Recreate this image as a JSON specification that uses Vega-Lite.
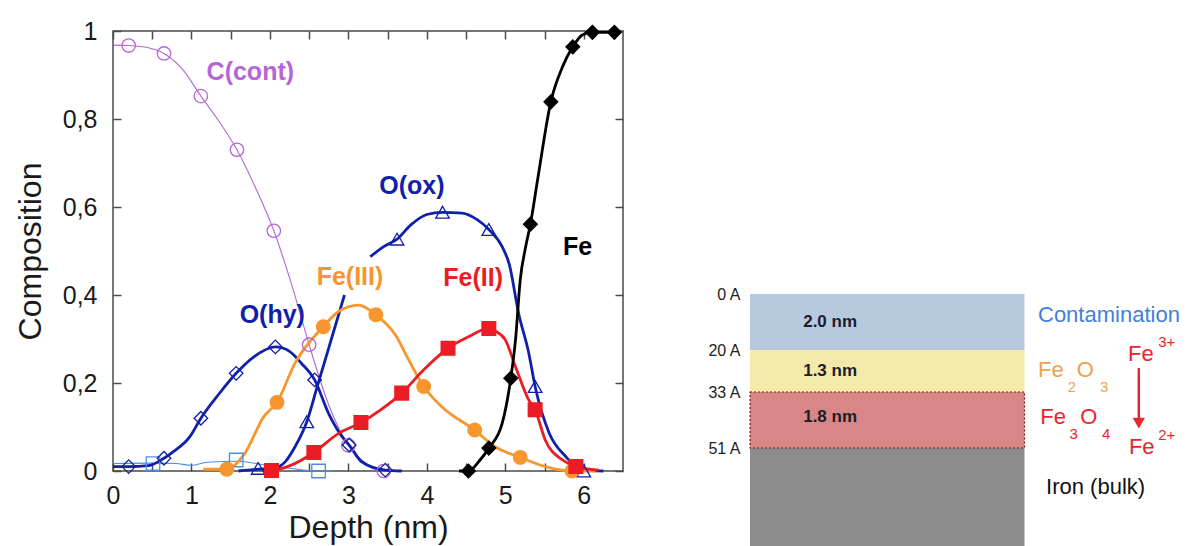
{
  "$schema": "https://vega.github.io/schema/vega-lite/v6.json",
  "background": "white",
  "padding": {"left": 13, "top": 18, "right": 0, "bottom": 0},
  "bounds": "flush",
  "spacing": 127,
  "resolve": {"scale": {"color": "independent", "fill": "independent", "stroke": "independent", "shape": "independent", "size": "independent"}},
  "config": {"view": {"stroke": null}, "font": "Liberation Sans"},
  "datasets": {
    "curves": [
      {"s": "C(cont)", "part": "a", "x": 0, "y": 0.968}, {"s": "C(cont)", "part": "a", "x": 0.2, "y": 0.967}, {"s": "C(cont)", "part": "a", "x": 0.45, "y": 0.962}, {"s": "C(cont)", "part": "a", "x": 0.65, "y": 0.949}, {"s": "C(cont)", "part": "a", "x": 0.9, "y": 0.91}, {"s": "C(cont)", "part": "a", "x": 1.12, "y": 0.852}, {"s": "C(cont)", "part": "a", "x": 1.35, "y": 0.795}, {"s": "C(cont)", "part": "a", "x": 1.58, "y": 0.73}, {"s": "C(cont)", "part": "a", "x": 1.8, "y": 0.65}, {"s": "C(cont)", "part": "a", "x": 2.05, "y": 0.546}, {"s": "C(cont)", "part": "a", "x": 2.3, "y": 0.41}, {"s": "C(cont)", "part": "a", "x": 2.5, "y": 0.287}, {"s": "C(cont)", "part": "a", "x": 2.75, "y": 0.15}, {"s": "C(cont)", "part": "a", "x": 3.0, "y": 0.058}, {"s": "C(cont)", "part": "a", "x": 3.2, "y": 0.02}, {"s": "C(cont)", "part": "a", "x": 3.45, "y": 0.0},
      {"s": "O(other)", "part": "a", "x": 0, "y": 0.017}, {"s": "O(other)", "part": "a", "x": 0.51, "y": 0.018}, {"s": "O(other)", "part": "a", "x": 0.8, "y": 0.017}, {"s": "O(other)", "part": "a", "x": 1.0, "y": 0.013}, {"s": "O(other)", "part": "a", "x": 1.2, "y": 0.02}, {"s": "O(other)", "part": "a", "x": 1.57, "y": 0.022}, {"s": "O(other)", "part": "a", "x": 2.0, "y": 0.012}, {"s": "O(other)", "part": "a", "x": 2.3, "y": 0.005}, {"s": "O(other)", "part": "a", "x": 2.62, "y": 0.0}, {"s": "O(other)", "part": "a", "x": 2.8, "y": 0.0},
      {"s": "O(hy)", "part": "a", "x": 0, "y": 0.01}, {"s": "O(hy)", "part": "a", "x": 0.2, "y": 0.01}, {"s": "O(hy)", "part": "a", "x": 0.45, "y": 0.012}, {"s": "O(hy)", "part": "a", "x": 0.65, "y": 0.029}, {"s": "O(hy)", "part": "a", "x": 0.77, "y": 0.044}, {"s": "O(hy)", "part": "a", "x": 0.98, "y": 0.078}, {"s": "O(hy)", "part": "a", "x": 1.12, "y": 0.12}, {"s": "O(hy)", "part": "a", "x": 1.35, "y": 0.175}, {"s": "O(hy)", "part": "a", "x": 1.57, "y": 0.222}, {"s": "O(hy)", "part": "a", "x": 1.8, "y": 0.26}, {"s": "O(hy)", "part": "a", "x": 2.07, "y": 0.282}, {"s": "O(hy)", "part": "a", "x": 2.25, "y": 0.272}, {"s": "O(hy)", "part": "a", "x": 2.4, "y": 0.245}, {"s": "O(hy)", "part": "a", "x": 2.57, "y": 0.207}, {"s": "O(hy)", "part": "a", "x": 2.75, "y": 0.13}, {"s": "O(hy)", "part": "a", "x": 2.92, "y": 0.078}, {"s": "O(hy)", "part": "a", "x": 3.01, "y": 0.059}, {"s": "O(hy)", "part": "a", "x": 3.17, "y": 0.021}, {"s": "O(hy)", "part": "a", "x": 3.47, "y": 0.002}, {"s": "O(hy)", "part": "a", "x": 3.68, "y": 0.0},
      {"s": "O(ox)", "part": "a", "x": 1.6, "y": 0.0}, {"s": "O(ox)", "part": "a", "x": 1.85, "y": 0.004}, {"s": "O(ox)", "part": "a", "x": 2.05, "y": 0.006}, {"s": "O(ox)", "part": "a", "x": 2.2, "y": 0.022}, {"s": "O(ox)", "part": "a", "x": 2.32, "y": 0.055}, {"s": "O(ox)", "part": "a", "x": 2.47, "y": 0.112}, {"s": "O(ox)", "part": "a", "x": 2.6, "y": 0.19}, {"s": "O(ox)", "part": "a", "x": 2.75, "y": 0.28}, {"s": "O(ox)", "part": "a", "x": 2.95, "y": 0.4},
      {"s": "O(ox)", "part": "b", "x": 3.28, "y": 0.487}, {"s": "O(ox)", "part": "b", "x": 3.45, "y": 0.51}, {"s": "O(ox)", "part": "b", "x": 3.62, "y": 0.527}, {"s": "O(ox)", "part": "b", "x": 3.8, "y": 0.56}, {"s": "O(ox)", "part": "b", "x": 4.0, "y": 0.583}, {"s": "O(ox)", "part": "b", "x": 4.2, "y": 0.588}, {"s": "O(ox)", "part": "b", "x": 4.45, "y": 0.586}, {"s": "O(ox)", "part": "b", "x": 4.65, "y": 0.57}, {"s": "O(ox)", "part": "b", "x": 4.79, "y": 0.549}, {"s": "O(ox)", "part": "b", "x": 4.96, "y": 0.51}, {"s": "O(ox)", "part": "b", "x": 5.05, "y": 0.47}, {"s": "O(ox)", "part": "b", "x": 5.17, "y": 0.358}, {"s": "O(ox)", "part": "b", "x": 5.3, "y": 0.267}, {"s": "O(ox)", "part": "b", "x": 5.38, "y": 0.192}, {"s": "O(ox)", "part": "b", "x": 5.56, "y": 0.086}, {"s": "O(ox)", "part": "b", "x": 5.77, "y": 0.033}, {"s": "O(ox)", "part": "b", "x": 5.98, "y": 0.002}, {"s": "O(ox)", "part": "b", "x": 6.25, "y": 0.0},
      {"s": "Fe(III)", "part": "a", "x": 1.15, "y": 0.004}, {"s": "Fe(III)", "part": "a", "x": 1.45, "y": 0.004}, {"s": "Fe(III)", "part": "a", "x": 1.68, "y": 0.04}, {"s": "Fe(III)", "part": "a", "x": 1.92, "y": 0.123}, {"s": "Fe(III)", "part": "a", "x": 2.09, "y": 0.156}, {"s": "Fe(III)", "part": "a", "x": 2.32, "y": 0.245}, {"s": "Fe(III)", "part": "a", "x": 2.68, "y": 0.328}, {"s": "Fe(III)", "part": "a", "x": 2.87, "y": 0.362}, {"s": "Fe(III)", "part": "a", "x": 3.13, "y": 0.377}, {"s": "Fe(III)", "part": "a", "x": 3.35, "y": 0.355}, {"s": "Fe(III)", "part": "a", "x": 3.6, "y": 0.309}, {"s": "Fe(III)", "part": "a", "x": 3.77, "y": 0.252}, {"s": "Fe(III)", "part": "a", "x": 3.96, "y": 0.192}, {"s": "Fe(III)", "part": "a", "x": 4.19, "y": 0.146}, {"s": "Fe(III)", "part": "a", "x": 4.61, "y": 0.093}, {"s": "Fe(III)", "part": "a", "x": 4.87, "y": 0.055}, {"s": "Fe(III)", "part": "a", "x": 5.19, "y": 0.031}, {"s": "Fe(III)", "part": "a", "x": 5.51, "y": 0.01}, {"s": "Fe(III)", "part": "a", "x": 5.85, "y": 0.0}, {"s": "Fe(III)", "part": "a", "x": 6.15, "y": 0.0},
      {"s": "Fe(II)", "part": "a", "x": 1.95, "y": 0.0}, {"s": "Fe(II)", "part": "a", "x": 2.02, "y": 0.001}, {"s": "Fe(II)", "part": "a", "x": 2.28, "y": 0.014}, {"s": "Fe(II)", "part": "a", "x": 2.56, "y": 0.042}, {"s": "Fe(II)", "part": "a", "x": 2.87, "y": 0.085}, {"s": "Fe(II)", "part": "a", "x": 3.16, "y": 0.11}, {"s": "Fe(II)", "part": "a", "x": 3.42, "y": 0.14}, {"s": "Fe(II)", "part": "a", "x": 3.68, "y": 0.177}, {"s": "Fe(II)", "part": "a", "x": 3.96, "y": 0.23}, {"s": "Fe(II)", "part": "a", "x": 4.27, "y": 0.279}, {"s": "Fe(II)", "part": "a", "x": 4.53, "y": 0.305}, {"s": "Fe(II)", "part": "a", "x": 4.79, "y": 0.324}, {"s": "Fe(II)", "part": "a", "x": 4.87, "y": 0.318}, {"s": "Fe(II)", "part": "a", "x": 5.0, "y": 0.298}, {"s": "Fe(II)", "part": "a", "x": 5.13, "y": 0.237}, {"s": "Fe(II)", "part": "a", "x": 5.3, "y": 0.161}, {"s": "Fe(II)", "part": "a", "x": 5.38, "y": 0.139}, {"s": "Fe(II)", "part": "a", "x": 5.51, "y": 0.07}, {"s": "Fe(II)", "part": "a", "x": 5.73, "y": 0.025}, {"s": "Fe(II)", "part": "a", "x": 5.9, "y": 0.01}, {"s": "Fe(II)", "part": "a", "x": 6.19, "y": 0.002},
      {"s": "Fe", "part": "a", "x": 4.41, "y": 0.0}, {"s": "Fe", "part": "a", "x": 4.53, "y": 0.0}, {"s": "Fe", "part": "a", "x": 4.66, "y": 0.021}, {"s": "Fe", "part": "a", "x": 4.79, "y": 0.052}, {"s": "Fe", "part": "a", "x": 4.96, "y": 0.108}, {"s": "Fe", "part": "a", "x": 5.07, "y": 0.211}, {"s": "Fe", "part": "a", "x": 5.13, "y": 0.298}, {"s": "Fe", "part": "a", "x": 5.19, "y": 0.434}, {"s": "Fe", "part": "a", "x": 5.26, "y": 0.51}, {"s": "Fe", "part": "a", "x": 5.32, "y": 0.561}, {"s": "Fe", "part": "a", "x": 5.41, "y": 0.66}, {"s": "Fe", "part": "a", "x": 5.58, "y": 0.839}, {"s": "Fe", "part": "a", "x": 5.73, "y": 0.919}, {"s": "Fe", "part": "a", "x": 5.86, "y": 0.964}, {"s": "Fe", "part": "a", "x": 5.98, "y": 0.991}, {"s": "Fe", "part": "a", "x": 6.11, "y": 0.997}, {"s": "Fe", "part": "a", "x": 6.39, "y": 0.997}
    ],
    "markers": [
      {"s": "C(cont)", "x": 0.2, "y": 0.967}, {"s": "C(cont)", "x": 0.65, "y": 0.949}, {"s": "C(cont)", "x": 1.12, "y": 0.852}, {"s": "C(cont)", "x": 1.58, "y": 0.73}, {"s": "C(cont)", "x": 2.05, "y": 0.546}, {"s": "C(cont)", "x": 2.5, "y": 0.287}, {"s": "C(cont)", "x": 3.0, "y": 0.058}, {"s": "C(cont)", "x": 3.45, "y": 0.0},
      {"s": "O(other)", "x": 0.51, "y": 0.017}, {"s": "O(other)", "x": 1.57, "y": 0.025}, {"s": "O(other)", "x": 2.62, "y": 0.0},
      {"s": "O(hy)", "x": 0.2, "y": 0.01}, {"s": "O(hy)", "x": 0.65, "y": 0.029}, {"s": "O(hy)", "x": 1.12, "y": 0.12}, {"s": "O(hy)", "x": 1.57, "y": 0.222}, {"s": "O(hy)", "x": 2.07, "y": 0.282}, {"s": "O(hy)", "x": 2.57, "y": 0.207}, {"s": "O(hy)", "x": 3.01, "y": 0.059}, {"s": "O(hy)", "x": 3.47, "y": 0.002},
      {"s": "O(ox)", "x": 1.85, "y": 0.006}, {"s": "O(ox)", "x": 2.47, "y": 0.112}, {"s": "O(ox)", "x": 3.62, "y": 0.527}, {"s": "O(ox)", "x": 4.2, "y": 0.588}, {"s": "O(ox)", "x": 4.79, "y": 0.549}, {"s": "O(ox)", "x": 5.38, "y": 0.192}, {"s": "O(ox)", "x": 6.0, "y": 0.0},
      {"s": "Fe(III)", "x": 1.45, "y": 0.004}, {"s": "Fe(III)", "x": 2.09, "y": 0.156}, {"s": "Fe(III)", "x": 2.68, "y": 0.328}, {"s": "Fe(III)", "x": 3.35, "y": 0.355}, {"s": "Fe(III)", "x": 3.96, "y": 0.192}, {"s": "Fe(III)", "x": 4.61, "y": 0.093}, {"s": "Fe(III)", "x": 5.19, "y": 0.031}, {"s": "Fe(III)", "x": 5.85, "y": 0.0},
      {"s": "Fe(II)", "x": 2.02, "y": 0.001}, {"s": "Fe(II)", "x": 2.56, "y": 0.042}, {"s": "Fe(II)", "x": 3.16, "y": 0.11}, {"s": "Fe(II)", "x": 3.68, "y": 0.177}, {"s": "Fe(II)", "x": 4.27, "y": 0.279}, {"s": "Fe(II)", "x": 4.79, "y": 0.324}, {"s": "Fe(II)", "x": 5.38, "y": 0.139}, {"s": "Fe(II)", "x": 5.9, "y": 0.01},
      {"s": "Fe", "x": 4.53, "y": 0.0}, {"s": "Fe", "x": 4.79, "y": 0.052}, {"s": "Fe", "x": 5.07, "y": 0.211}, {"s": "Fe", "x": 5.32, "y": 0.561}, {"s": "Fe", "x": 5.58, "y": 0.839}, {"s": "Fe", "x": 5.86, "y": 0.964}, {"s": "Fe", "x": 6.11, "y": 0.997}, {"s": "Fe", "x": 6.39, "y": 0.997}
    ],
    "labels": [
      {"s": "C(cont)", "x": 1.75, "y": 0.907}, {"s": "O(hy)", "x": 2.03, "y": 0.355}, {"s": "O(ox)", "x": 3.81, "y": 0.648}, {"s": "Fe(III)", "x": 3.02, "y": 0.441}, {"s": "Fe(II)", "x": 4.59, "y": 0.439}, {"s": "Fe", "x": 5.92, "y": 0.508}
    ],
    "bands": [
      {"band": "Contamination", "top": 0, "bottom": 20}, {"band": "Fe2O3", "top": 20, "bottom": 33}, {"band": "Fe3O4", "top": 33, "bottom": 51}, {"band": "Iron", "top": 51, "bottom": 82}
    ],
    "thick": [
      {"label": "2.0 nm", "depth": 10}, {"label": "1.3 nm", "depth": 26.5}, {"label": "1.8 nm", "depth": 41}
    ],
    "notes": [
      {"t": "Contamination", "x": 64, "depth": 7.5, "g": "Contamination", "k": "big"},
      {"t": "Fe", "x": 64.0, "depth": 26.2, "g": "Fe2O3", "k": "big"}, {"t": "O", "x": 72.6, "depth": 26.2, "g": "Fe2O3", "k": "big"},
      {"t": "2", "x": 70.6, "depth": 31.5, "g": "Fe2O3", "k": "small"}, {"t": "3", "x": 77.8, "depth": 31.5, "g": "Fe2O3", "k": "small"},
      {"t": "Fe", "x": 64.5, "depth": 41, "g": "Fe3O4", "k": "big"}, {"t": "O", "x": 73.4, "depth": 41, "g": "Fe3O4", "k": "big"},
      {"t": "3", "x": 71.0, "depth": 46.5, "g": "Fe3O4", "k": "small"}, {"t": "4", "x": 78.2, "depth": 46.5, "g": "Fe3O4", "k": "small"},
      {"t": "Fe", "x": 84, "depth": 21.2, "g": "ion", "k": "big"}, {"t": "3+", "x": 90.7, "depth": 17, "g": "ion", "k": "small"},
      {"t": "Fe", "x": 84.2, "depth": 50.7, "g": "ion", "k": "big"}, {"t": "2+", "x": 90.7, "depth": 46.8, "g": "ion", "k": "small"},
      {"t": "Iron (bulk)", "x": 65.8, "depth": 63.3, "g": "bulk", "k": "big"}
    ]
  },
  "hconcat": [
    {
      "width": 510,
      "height": 440,
      "view": {"stroke": "#4a4a4a", "strokeWidth": 1.5},
      "resolve": {"axis": {"x": "independent", "y": "independent"}},
      "layer": [
        {
          "data": {"name": "curves"},
          "transform": [{"filter": "datum.s == 'C(cont)' || datum.s == 'O(other)'"}],
          "mark": {"type": "line", "interpolate": "monotone", "strokeWidth": 1.1},
          "encoding": {
            "x": {"field": "x", "type": "quantitative", "scale": {"domain": [0, 6.5], "nice": false, "zero": false},
              "axis": {"orient": "bottom", "values": [0, 0.5, 1, 1.5, 2, 2.5, 3, 3.5, 4, 4.5, 5, 5.5, 6], "labelExpr": "datum.value % 1 === 0 ? format(datum.value, 'd') : ''", "labelOverlap": false, "labelFlush": false, "tickSize": -8, "tickWidth": 1.5, "tickColor": "#4a4a4a", "domain": false, "grid": false, "labelFontSize": 25, "labelColor": "#1a1a1a", "labelPadding": 20, "title": "Depth (nm)", "titleFontSize": 32, "titleFontWeight": "normal", "titleColor": "#1a1a1a", "titlePadding": 4}},
            "y": {"field": "y", "type": "quantitative", "scale": {"domain": [0, 1], "nice": false},
              "axis": {"orient": "left", "values": [0, 0.2, 0.4, 0.6, 0.8, 1], "labelExpr": "replace(format(datum.value, '~g'), '.', ',')", "labelOverlap": false, "labelFlush": false, "tickSize": -8, "tickWidth": 1.5, "tickColor": "#4a4a4a", "domain": false, "grid": false, "labelFontSize": 25, "labelColor": "#1a1a1a", "labelPadding": 24, "title": "Composition", "titleFontSize": 32, "titleFontWeight": "normal", "titleColor": "#1a1a1a", "titlePadding": 15}},
            "color": {"field": "s", "type": "nominal", "legend": null,
              "scale": {"domain": ["C(cont)", "O(other)", "O(hy)", "O(ox)", "Fe(III)", "Fe(II)", "Fe"], "range": ["#b466d8", "#4a8ee0", "#1020a8", "#1020a8", "#f7962e", "#ec1c24", "#000000"]}},
            "detail": {"field": "part"}
          }
        },
        {
          "data": {"name": "curves"},
          "transform": [{"filter": "datum.s != 'C(cont)' && datum.s != 'O(other)'"}],
          "mark": {"type": "line", "interpolate": "monotone", "strokeWidth": 2.8},
          "encoding": {
            "x": {"field": "x", "type": "quantitative", "axis": null},
            "y": {"field": "y", "type": "quantitative", "axis": null},
            "color": {"field": "s", "type": "nominal", "legend": null},
            "detail": {"field": "part"}
          }
        },
        {
          "data": {"name": "markers"},
          "mark": {"type": "point", "strokeWidth": 1.3, "opacity": 1},
          "encoding": {
            "x": {"field": "x", "type": "quantitative",
              "axis": {"orient": "top", "values": [0, 0.5, 1, 1.5, 2, 2.5, 3, 3.5, 4, 4.5, 5, 5.5, 6], "labels": false, "tickSize": -8, "tickWidth": 1.5, "tickColor": "#4a4a4a", "domain": false, "grid": false, "title": null}},
            "y": {"field": "y", "type": "quantitative",
              "axis": {"orient": "right", "values": [0, 0.2, 0.4, 0.6, 0.8, 1], "labels": false, "tickSize": -8, "tickWidth": 1.5, "tickColor": "#4a4a4a", "domain": false, "grid": false, "title": null}},
            "shape": {"field": "s", "type": "nominal", "legend": null,
              "scale": {"domain": ["C(cont)", "O(other)", "O(hy)", "O(ox)", "Fe(III)", "Fe(II)", "Fe"], "range": ["circle", "square", "diamond", "triangle-up", "circle", "square", "diamond"]}},
            "stroke": {"field": "s", "type": "nominal", "legend": null,
              "scale": {"domain": ["C(cont)", "O(other)", "O(hy)", "O(ox)", "Fe(III)", "Fe(II)", "Fe"], "range": ["#b466d8", "#4a8ee0", "#1020a8", "#1020a8", "#f7962e", "#ec1c24", "#000000"]}},
            "fill": {"field": "s", "type": "nominal", "legend": null,
              "scale": {"domain": ["C(cont)", "O(other)", "O(hy)", "O(ox)", "Fe(III)", "Fe(II)", "Fe"], "range": ["transparent", "transparent", "transparent", "transparent", "#f7962e", "#ec1c24", "#000000"]}},
            "size": {"field": "s", "type": "nominal", "legend": null,
              "scale": {"domain": ["C(cont)", "O(other)", "O(hy)", "O(ox)", "Fe(III)", "Fe(II)", "Fe"], "range": [180, 190, 150, 140, 190, 200, 170]}}
          }
        },
        {
          "data": {"name": "labels"},
          "mark": {"type": "text", "fontSize": 25, "fontWeight": "bold", "baseline": "middle", "align": "center"},
          "encoding": {
            "x": {"field": "x", "type": "quantitative", "axis": null},
            "y": {"field": "y", "type": "quantitative", "axis": null},
            "text": {"field": "s"},
            "color": {"field": "s", "type": "nominal", "legend": null}
          }
        }
      ]
    },
    {
      "width": 450,
      "height": 515,
      "layer": [
        {
          "data": {"name": "bands"},
          "mark": {"type": "rect"},
          "encoding": {
            "x": {"datum": 0, "type": "quantitative", "scale": {"domain": [0, 100], "nice": false, "zero": false}, "axis": null},
            "x2": {"datum": 61},
            "y": {"field": "top", "type": "quantitative",
              "scale": {"domain": [-94, 0, 20, 33, 51, 82], "range": [0, 263, 319, 361, 417, 515], "nice": false, "zero": false},
              "axis": {"orient": "left", "values": [0, 20, 33, 51], "labelExpr": "datum.value + ' A'", "ticks": false, "domain": false, "grid": false, "labelFontSize": 16, "labelColor": "#222222", "labelPadding": 10, "title": null}},
            "y2": {"field": "bottom"},
            "fill": {"field": "band", "type": "nominal", "legend": null,
              "scale": {"domain": ["Contamination", "Fe2O3", "Fe3O4", "Iron"], "range": ["#b7c9de", "#f3e9a8", "#d98686", "#8c8c8c"]}}
          }
        },
        {
          "data": {"name": "bands"},
          "transform": [{"filter": "datum.band == 'Fe3O4'"}],
          "mark": {"type": "rect", "fill": null, "stroke": "#7a1c1c", "strokeWidth": 1.2, "strokeDash": [2, 2]},
          "encoding": {
            "x": {"datum": 0, "type": "quantitative"},
            "x2": {"datum": 61},
            "y": {"field": "top", "type": "quantitative"},
            "y2": {"field": "bottom"}
          }
        },
        {
          "data": {"name": "thick"},
          "mark": {"type": "text", "fontSize": 17, "fontWeight": "bold", "color": "#1c1c2c", "align": "center", "baseline": "middle"},
          "encoding": {
            "x": {"datum": 17.8, "type": "quantitative"},
            "y": {"field": "depth", "type": "quantitative"},
            "text": {"field": "label"}
          }
        },
        {
          "data": {"name": "notes"},
          "transform": [{"filter": "datum.k == 'big'"}],
          "mark": {"type": "text", "fontSize": 22, "align": "left", "baseline": "middle"},
          "encoding": {
            "x": {"field": "x", "type": "quantitative"},
            "y": {"field": "depth", "type": "quantitative"},
            "text": {"field": "t"},
            "color": {"field": "g", "type": "nominal", "legend": null,
              "scale": {"domain": ["Contamination", "Fe2O3", "Fe3O4", "ion", "bulk"], "range": ["#3f80de", "#f2a04e", "#e8262c", "#e8262c", "#111111"]}}
          }
        },
        {
          "data": {"name": "notes"},
          "transform": [{"filter": "datum.k == 'small'"}],
          "mark": {"type": "text", "fontSize": 15, "align": "left", "baseline": "middle"},
          "encoding": {
            "x": {"field": "x", "type": "quantitative"},
            "y": {"field": "depth", "type": "quantitative"},
            "text": {"field": "t"},
            "color": {"field": "g", "type": "nominal", "legend": null}
          }
        },
        {
          "data": {"values": [{"a": 1}]},
          "mark": {"type": "rule", "color": "#e8262c", "strokeWidth": 2.5},
          "encoding": {
            "x": {"datum": 86.4, "type": "quantitative"},
            "y": {"datum": 25.6, "type": "quantitative"},
            "y2": {"datum": 42.5}
          }
        },
        {
          "data": {"values": [{"a": 1}]},
          "mark": {"type": "point", "shape": "triangle-down", "filled": true, "color": "#e8262c", "size": 150, "opacity": 1},
          "encoding": {
            "x": {"datum": 86.4, "type": "quantitative"},
            "y": {"datum": 43, "type": "quantitative"}
          }
        }
      ]
    }
  ]
}
